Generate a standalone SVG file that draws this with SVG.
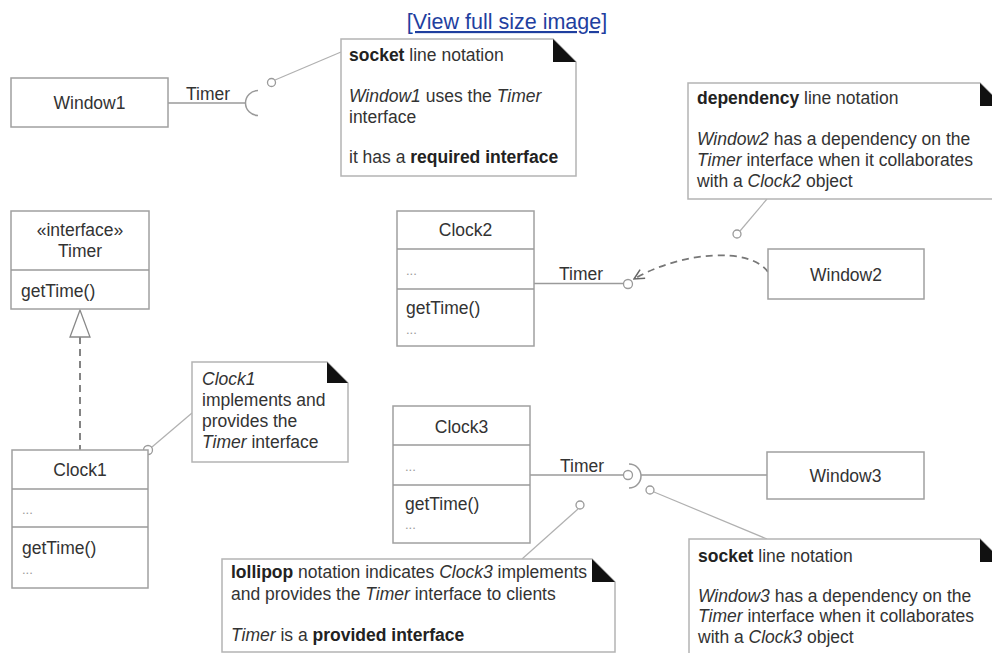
<svg xmlns="http://www.w3.org/2000/svg" width="992" height="653" viewBox="0 0 992 653">
<defs>
<style>
text{font-family:"Liberation Sans",Arial,sans-serif;font-size:17.5px;fill:#333}
.c{text-anchor:middle}
.b{font-weight:bold;fill:#222}
.i{font-style:italic}
.dots{font-size:13px;fill:#999}
.box{fill:#fff;stroke:#a0a0a0;stroke-width:1.5}
.note{fill:#fff;stroke:#b4b4b4;stroke-width:1.5}
.ear{fill:#111;stroke:none}
.ln{fill:none;stroke:#9a9a9a;stroke-width:1.5}
.an{fill:none;stroke:#b0b0b0;stroke-width:1.2}
.pin{fill:#fff;stroke:#9a9a9a;stroke-width:1.3}
.dash{fill:none;stroke:#777;stroke-width:1.8;stroke-dasharray:7,5}
.link{font-size:21.5px;fill:#1f3f9f;text-decoration:underline}
</style>
<marker id="open" viewBox="0 0 12 12" refX="11" refY="6" markerWidth="12" markerHeight="12" markerUnits="userSpaceOnUse" orient="auto">
<path d="M1,1 L11,6 L1,11" fill="none" stroke="#666" stroke-width="1.5"/>
</marker>
</defs>
<rect width="992" height="653" fill="#fff"/>

<text class="link c" x="507" y="29">[View full size image]</text>

<g id="connectors">
<line class="ln" x1="168" y1="103" x2="245.5" y2="103"/>
<path class="ln" d="M258,90.5 A12.5,12.5 0 0 0 258,115.5"/>
<line class="ln" x1="534" y1="283.5" x2="623.5" y2="283.5"/>
<circle class="pin" cx="628" cy="284" r="4.5"/>
<path class="dash" d="M768,272 C750,246 680,252 634,279" marker-end="url(#open)"/>
<line class="ln" x1="530" y1="475" x2="623.5" y2="475"/>
<circle class="pin" cx="628" cy="475" r="4.5"/>
<path class="ln" d="M629,464 A12,12 0 0 1 629,488"/>
<line class="ln" x1="641" y1="475" x2="767" y2="475"/>
<line class="dash" x1="80" y1="337" x2="80" y2="450"/>
<polygon points="80,310 70,337 90,337" fill="#fff" stroke="#888" stroke-width="1.3"/>
<line class="an" x1="275" y1="80" x2="341" y2="52"/>
<circle class="pin" cx="271.5" cy="82.5" r="4"/>
<line class="an" x1="767" y1="199" x2="740" y2="231"/>
<circle class="pin" cx="737" cy="234" r="4"/>
<line class="an" x1="152" y1="447" x2="192" y2="413"/>
<circle class="pin" cx="148" cy="450" r="4.5"/>
<line class="an" x1="578" y1="509" x2="522" y2="559"/>
<circle class="pin" cx="580" cy="505" r="4"/>
<line class="an" x1="654" y1="492" x2="767" y2="539"/>
<circle class="pin" cx="650" cy="490" r="4"/>
</g>

<g id="window1">
<rect class="box" x="11" y="78" width="157" height="49"/>
<text class="c" x="89.5" y="109">Window1</text>
<text x="186" y="100">Timer</text>
</g>

<g id="note-socket1">
<path class="note" d="M341,39 H553 L576,62 V176 H341 Z"/>
<path class="ear" d="M553,39 L576,62 H553 Z"/>
<text x="349" y="61"><tspan class="b">socket</tspan> line notation</text>
<text x="349" y="102"><tspan class="i">Window1</tspan> uses the <tspan class="i">Timer</tspan></text>
<text x="349" y="123">interface</text>
<text x="349" y="163">it has a <tspan class="b">required interface</tspan></text>
</g>

<g id="note-dependency">
<path class="note" d="M688,83 H980 L1003,106 V199 H688 Z"/>
<path class="ear" d="M980,83 L1003,106 H980 Z"/>
<text x="697" y="104"><tspan class="b">dependency</tspan> line notation</text>
<text x="697" y="145"><tspan class="i">Window2</tspan> has a dependency on the</text>
<text x="697" y="166"><tspan class="i">Timer</tspan> interface when it collaborates</text>
<text x="697" y="187">with a <tspan class="i">Clock2</tspan> object</text>
</g>

<g id="timer">
<rect class="box" x="11" y="211" width="138" height="98"/>
<line class="ln" x1="11" y1="270" x2="149" y2="270"/>
<text class="c" x="80" y="236">«interface»</text>
<text class="c" x="80" y="257">Timer</text>
<text x="21" y="297">getTime()</text>
</g>

<g id="clock2">
<rect class="box" x="397" y="211" width="137" height="135"/>
<line class="ln" x1="397" y1="249" x2="534" y2="249"/>
<line class="ln" x1="397" y1="289" x2="534" y2="289"/>
<text class="c" x="465.5" y="236">Clock2</text>
<text class="dots" x="406" y="275">...</text>
<text x="406" y="314">getTime()</text>
<text class="dots" x="406" y="334">...</text>
<text x="559" y="280">Timer</text>
</g>

<g id="window2">
<rect class="box" x="768" y="249" width="156" height="50"/>
<text class="c" x="846" y="281">Window2</text>
</g>

<g id="note-clock1">
<path class="note" d="M192,362 H327 L348,383 V462 H192 Z"/>
<path class="ear" d="M327,362 L348,383 H327 Z"/>
<text x="202" y="385" class="i">Clock1</text>
<text x="202" y="406">implements and</text>
<text x="202" y="427">provides the</text>
<text x="202" y="448"><tspan class="i">Timer</tspan> interface</text>
</g>

<g id="clock1">
<rect class="box" x="12" y="450" width="136" height="138"/>
<line class="ln" x1="12" y1="489" x2="148" y2="489"/>
<line class="ln" x1="12" y1="527" x2="148" y2="527"/>
<text class="c" x="80" y="476">Clock1</text>
<text class="dots" x="22" y="514">...</text>
<text x="22" y="554">getTime()</text>
<text class="dots" x="22" y="574">...</text>
</g>

<g id="clock3">
<rect class="box" x="393" y="406" width="137" height="137"/>
<line class="ln" x1="393" y1="445" x2="530" y2="445"/>
<line class="ln" x1="393" y1="485" x2="530" y2="485"/>
<text class="c" x="461.5" y="433">Clock3</text>
<text class="dots" x="405" y="471">...</text>
<text x="405" y="510">getTime()</text>
<text class="dots" x="405" y="529">...</text>
<text x="560" y="472">Timer</text>
</g>

<g id="window3">
<rect class="box" x="767" y="452" width="157" height="47"/>
<text class="c" x="845.5" y="482">Window3</text>
</g>

<g id="note-lollipop">
<path class="note" d="M222,559 H592 L615,582 V652 H222 Z"/>
<path class="ear" d="M592,559 L615,582 H592 Z"/>
<text x="231" y="578"><tspan class="b">lollipop</tspan> notation indicates <tspan class="i">Clock3</tspan> implements</text>
<text x="231" y="600">and provides the <tspan class="i">Timer</tspan> interface to clients</text>
<text x="231" y="641"><tspan class="i">Timer</tspan> is a <tspan class="b">provided interface</tspan></text>
</g>

<g id="note-socket3">
<path class="note" d="M689,539 H980 L1003,562 V680 H689 Z"/>
<path class="ear" d="M980,539 L1003,562 H980 Z"/>
<text x="698" y="562"><tspan class="b">socket</tspan> line notation</text>
<text x="698" y="602"><tspan class="i">Window3</tspan> has a dependency on the</text>
<text x="698" y="622"><tspan class="i">Timer</tspan> interface when it collaborates</text>
<text x="698" y="643">with a <tspan class="i">Clock3</tspan> object</text>
</g>
</svg>
